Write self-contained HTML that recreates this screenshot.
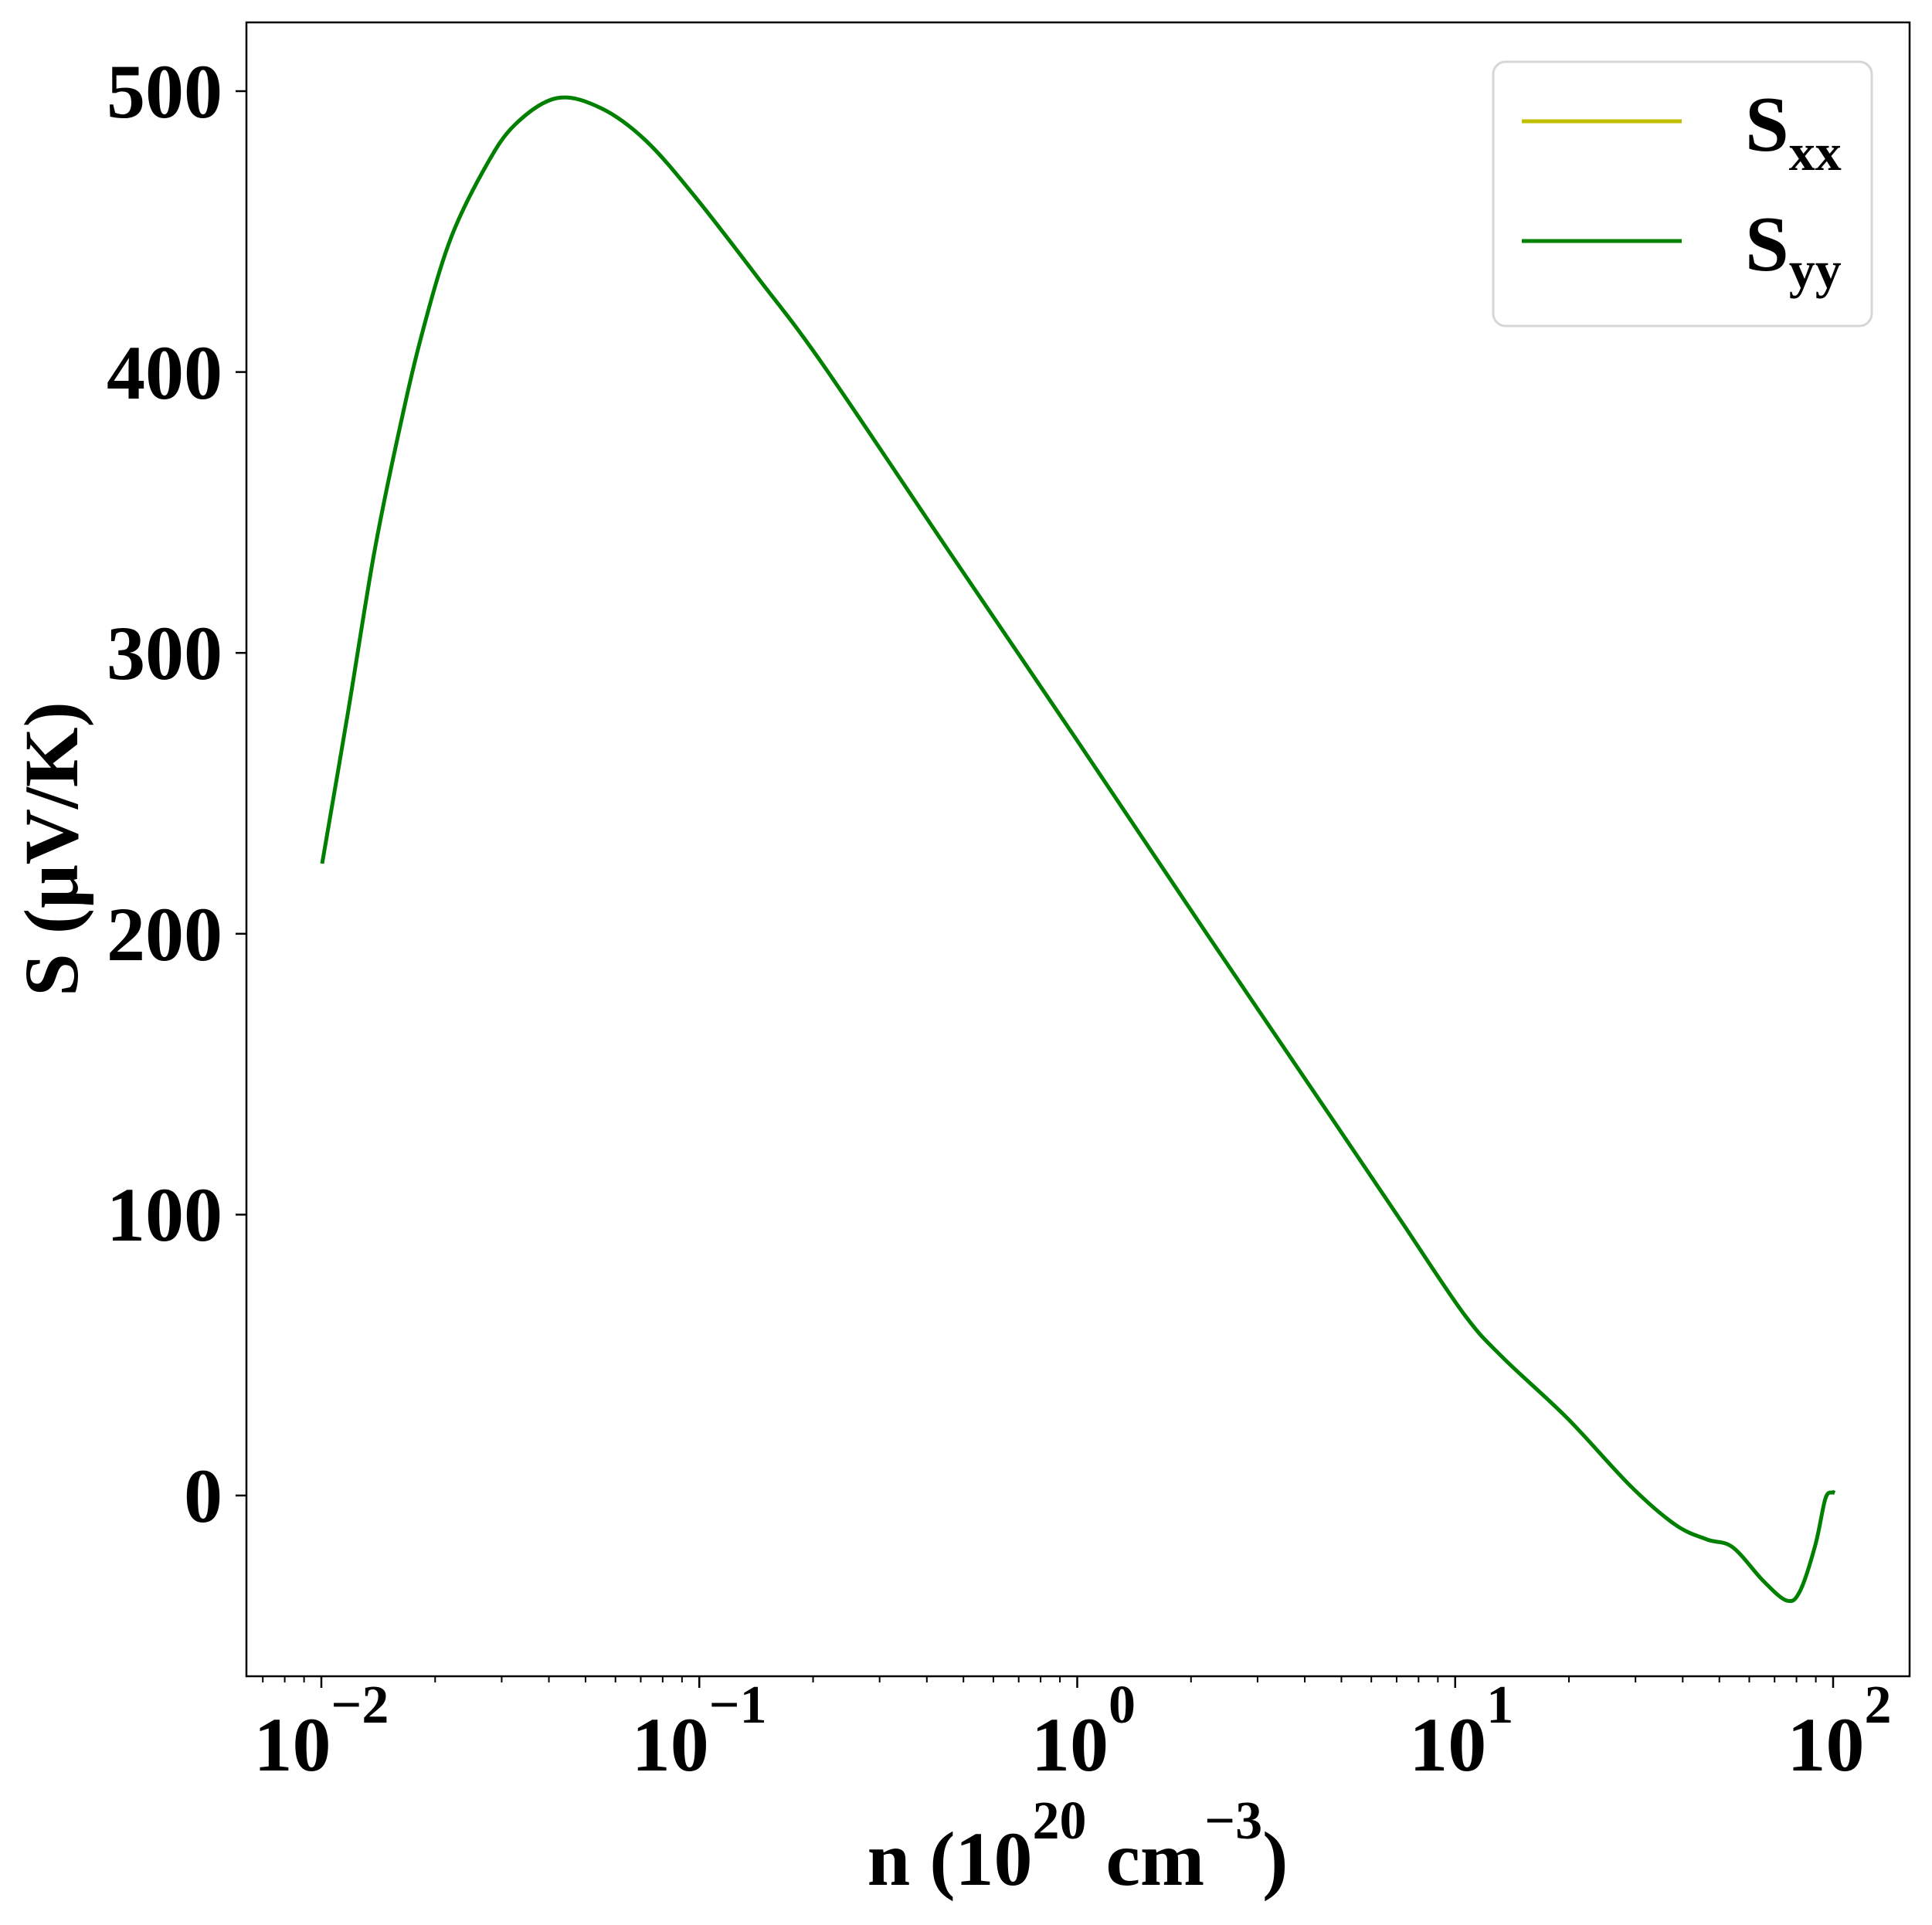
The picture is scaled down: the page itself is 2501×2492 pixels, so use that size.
<!DOCTYPE html>
<html><head><meta charset="utf-8"><style>
html,body{margin:0;padding:0;background:#fff;}
svg{display:block;}
text{font-family:"Liberation Serif","Times New Roman",serif;font-weight:bold;fill:#000;}
</style></head><body>
<svg id="s" width="2501" height="2492" viewBox="0 0 2501 2492" xmlns="http://www.w3.org/2000/svg">
<rect width="2501" height="2492" fill="#fff"/>
<g id="ticks" stroke="#000" stroke-width="2.5"></g>
<path id="curve" fill="none" stroke="#008000" stroke-width="5" stroke-linejoin="round" d=""/>
<rect x="319" y="29" width="2153" height="2141" fill="none" stroke="#000" stroke-width="2.5"/>
<g font-size="100" text-anchor="end">
<text x="288" y="152">500</text>
<text x="288" y="516">400</text>
<text x="288" y="879">300</text>
<text x="288" y="1243">200</text>
<text x="288" y="1606">100</text>
<text x="288" y="1970">0</text>
</g>
<g id="xl"></g>
<text font-size="100" transform="translate(100,1099) rotate(-90)" text-anchor="middle">S (μV/K)</text>
<text font-size="100" x="1395" y="2440" text-anchor="middle">n (10<tspan font-size="70" dy="-60">20</tspan><tspan dy="60"> cm</tspan><tspan font-size="70" dy="-60">−3</tspan><tspan dy="60">)</tspan></text>
<rect x="1933" y="80" width="490" height="342" rx="16" ry="16" fill="#fff" fill-opacity="0.8" stroke="#d6d6d6" stroke-width="3"/>
<line x1="1970" y1="157" x2="2177" y2="157" stroke="#bfbf00" stroke-width="5"/>
<line x1="1970" y1="312" x2="2177" y2="312" stroke="#008000" stroke-width="5"/>
<text font-size="102" x="2259" y="195">S<tspan font-size="68" dy="25">xx</tspan></text>
<text font-size="102" x="2259" y="350">S<tspan font-size="68" dy="22">yy</tspan></text>
</svg>
<script>
var P=[[417,1118],[450,925],[484,718],[514,570],[545,437],[583,310],[629,215],[667,161],[721,127],[778,140],[836,182],[900,255],[983,362],[1066,473],[1232,719],[1398,964],[1563,1210],[1729,1455],[1812,1578],[1895,1701],[1945,1757],[2028,1835],[2111,1924],[2169,1974],[2210,1993],[2243,2003],[2283,2047],[2313,2072],[2330,2060],[2350,2000],[2363,1940],[2372,1932],[2375,1933]];
var d='M'+P[0][0]+','+P[0][1];
for(var i=0;i<P.length-1;i++){var p0=P[i-1]||P[i],p1=P[i],p2=P[i+1],p3=P[i+2]||p2;
 var c1x=p1[0]+(p2[0]-p0[0])/6,c1y=p1[1]+(p2[1]-p0[1])/6,c2x=p2[0]-(p3[0]-p1[0])/6,c2y=p2[1]-(p3[1]-p1[1])/6;
 d+=' C'+c1x.toFixed(1)+','+c1y.toFixed(1)+' '+c2x.toFixed(1)+','+c2y.toFixed(1)+' '+p2[0]+','+p2[1];}
document.getElementById('curve').setAttribute('d',d);
var t=document.getElementById('ticks'),h='';
function X(l){return 416+(l+2)*489.25;}
for(var v=0;v<=500;v+=100){var y=1936-3.636*v;h+='<line x1="305" y1="'+y+'" x2="319" y2="'+y+'"/>';}
for(var dd=-3;dd<=2;dd++){for(var k=1;k<10;k++){var x=X(dd+Math.log10(k));if(x<320||x>2471)continue;
 var L=(k==1)?15:8;h+='<line x1="'+x+'" y1="2170" x2="'+x+'" y2="'+(2170+L)+'" stroke-width="'+(k==1?2.5:2)+'"/>';}}
t.innerHTML=h;
var xl='',labs=['−2','−1','0','1','2'];
for(var i=0;i<5;i++){var cx=X(i-2);var off=(i<2)?0:-8;
 xl+='<text font-size="100" x="'+(cx-off)+'" y="2292" text-anchor="middle">10<tspan font-size="70" dy="-62">'+labs[i]+'</tspan></text>';}
document.getElementById('xl').innerHTML=xl;
</script>
</body></html>
